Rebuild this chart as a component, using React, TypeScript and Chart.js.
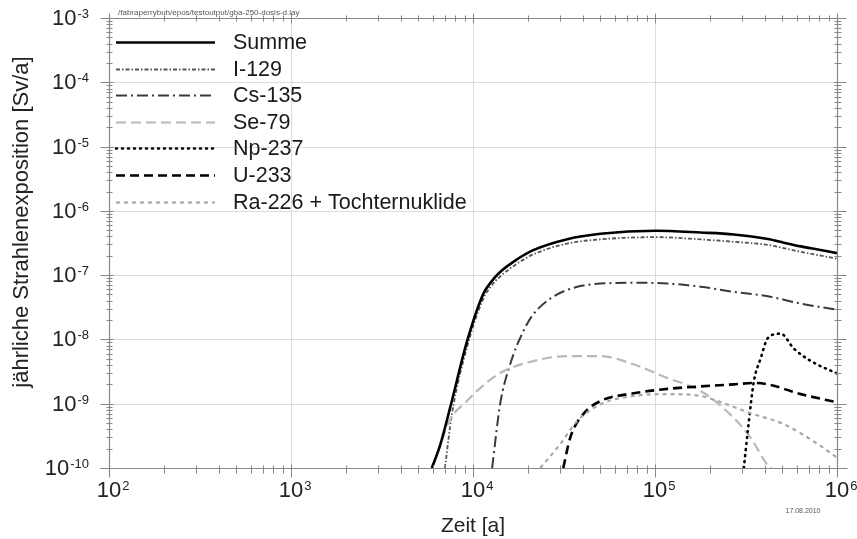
import React, { useEffect, useRef } from "react";
import { Chart, registerables } from "chart.js";

Chart.register(...registerables);

// ---------- data (time in years, annual dose in Sv/a) ----------
const summeTime = [5940, 6580, 7460, 9270, 11350, 12600, 14090, 17400, 21430, 32960, 50120, 100700, 178200, 271000, 416900, 510500, 633900, 785200, 1000000];
const summeDose = [1e-10, 2.2e-10, 8.3e-10, 9.3e-9, 5.0e-8, 7.9e-8, 1.12e-7, 1.75e-7, 2.45e-7, 3.63e-7, 4.4e-7, 4.9e-7, 4.6e-7, 4.3e-7, 3.65e-7, 3.2e-7, 2.8e-7, 2.5e-7, 2.2e-7];

const i129Time = [7010, 7660, 9270, 11350, 12600, 14090, 17400, 21430, 32960, 50120, 100000, 178200, 271000, 416900, 633900, 1000000];
const i129Dose = [1e-10, 6.9e-10, 7.6e-9, 4.2e-8, 6.8e-8, 9.5e-8, 1.5e-7, 2.1e-7, 3.1e-7, 3.6e-7, 3.9e-7, 3.6e-7, 3.3e-7, 2.95e-7, 2.3e-7, 1.8e-7];

const cs135Time = [12740, 14090, 16000, 18840, 21430, 26550, 32960, 50120, 83180, 117200, 178200, 271000, 416900, 633900, 1000000];
const cs135Dose = [1e-10, 9.8e-10, 4.1e-9, 1.32e-8, 2.45e-8, 4.3e-8, 5.9e-8, 7.4e-8, 7.6e-8, 7.4e-8, 6.6e-8, 5.5e-8, 4.7e-8, 3.6e-8, 2.9e-8];

const se79Time = [5940, 6580, 7460, 9270, 10520, 14090, 21430, 32960, 50120, 76210, 117200, 178200, 271000, 335700, 416900, 436500];
const se79Dose = [1e-10, 2.2e-10, 5.6e-10, 1.1e-9, 1.58e-9, 3.0e-9, 4.6e-9, 5.5e-9, 5.5e-9, 4.1e-9, 2.5e-9, 1.58e-9, 6.0e-10, 2.95e-10, 1.1e-10, 1e-10];

const np237Time = [307600, 323600, 349100, 381100, 416900, 490900, 579400, 719500, 1000000];
const np237Dose = [1e-10, 3.8e-10, 2.2e-9, 5.1e-9, 1.05e-8, 1.23e-8, 7.2e-9, 4.6e-9, 2.95e-9];

const u233Time = [31330, 34200, 40360, 50120, 76210, 117200, 178200, 271000, 349100, 416900, 633900, 1000000];
const u233Dose = [1e-10, 2.95e-10, 6.9e-10, 1.1e-9, 1.45e-9, 1.7e-9, 1.86e-9, 2.0e-9, 2.1e-9, 2.0e-9, 1.41e-9, 1.05e-9];

const ra226Time = [23390, 30130, 37410, 50120, 76210, 117200, 178200, 220800, 335700, 510500, 785200, 1000000];
const ra226Dose = [1e-10, 2.35e-10, 5.4e-10, 9.8e-10, 1.32e-9, 1.41e-9, 1.32e-9, 1.1e-9, 7.1e-10, 4.8e-10, 2.35e-10, 1.45e-10];

const seriesLabels = ["Summe", "I-129", "Cs-135", "Se-79", "Np-237", "U-233", "Ra-226 + Tochternuklide"];

const xDecades = [2, 3, 4, 5, 6];
const yDecades = [-3, -4, -5, -6, -7, -8, -9, -10];

const xTitle = "Zeit [a]";
const yTitle = "jährliche Strahlenexposition [Sv/a]";
const fileText = "/fabraperrybuh/epos/testoutput/gba-250-dosis-d.lay";
const dateText = "17.08.2010";

const FONT = '"Liberation Sans", Arial, Helvetica, sans-serif';

const pts = (t: number[], v: number[]) => t.map((x, i) => ({ x, y: v[i] }));

function drawPow(ctx: CanvasRenderingContext2D, exp: string, x: number, y: number, align: "center" | "right") {
  ctx.font = `22px ${FONT}`;
  const bw = ctx.measureText("10").width;
  ctx.font = `13px ${FONT}`;
  const ew = ctx.measureText(exp).width;
  const bx = align === "right" ? x - ew - 1 - bw : x - bw / 2;
  ctx.fillStyle = "#222";
  ctx.textAlign = "left";
  ctx.textBaseline = "middle";
  ctx.font = `22px ${FONT}`;
  ctx.fillText("10", bx, y);
  ctx.font = `13px ${FONT}`;
  ctx.textBaseline = "alphabetic";
  ctx.fillText(exp, bx + bw + 1, y - 1);
}

const framePlugin = {
  id: "frame",
  beforeDatasetsDraw(chart: any) {
    const { ctx, chartArea: a, scales } = chart;
    const xs = scales.x, ys = scales.y;
    ctx.save();
    ctx.strokeStyle = "#dcdcdc";
    ctx.lineWidth = 1;
    xDecades.forEach((d) => {
      const px = Math.round(xs.getPixelForValue(Math.pow(10, d))) + 0.5;
      ctx.beginPath(); ctx.moveTo(px, a.top); ctx.lineTo(px, a.bottom); ctx.stroke();
    });
    yDecades.forEach((d) => {
      const py = Math.round(ys.getPixelForValue(Math.pow(10, d))) + 0.5;
      ctx.beginPath(); ctx.moveTo(a.left, py); ctx.lineTo(a.right, py); ctx.stroke();
    });
    ctx.restore();
  },
  afterDatasetsDraw(chart: any) {
    const { ctx, chartArea: a, scales } = chart;
    const xs = scales.x, ys = scales.y;
    ctx.save();
    // frame lines
    ctx.strokeStyle = "#888";
    ctx.lineWidth = 1.2;
    const L = Math.round(a.left) + 0.5, R = Math.round(a.right) + 0.5;
    const T = Math.round(a.top) + 0.5, B = Math.round(a.bottom) + 0.5;
    ctx.beginPath();
    ctx.moveTo(L - 9, B); ctx.lineTo(R + 10, B);
    ctx.moveTo(L, B + 8); ctx.lineTo(L, T - 3);
    ctx.moveTo(L - 3, T); ctx.lineTo(R + 3, T);
    ctx.moveTo(R, T - 3); ctx.lineTo(R, B + 3);
    ctx.stroke();
    // ticks
    ctx.lineWidth = 1;
    ctx.beginPath();
    for (let d = 2; d <= 6; d++) {
      for (let m = 1; m <= 9; m++) {
        if (d === 6 && m > 1) break;
        const px = Math.round(xs.getPixelForValue(m * Math.pow(10, d))) + 0.5;
        const major = m === 1;
        ctx.moveTo(px, B - (major ? 4 : 3)); ctx.lineTo(px, B + (major ? 9 : 5));
        ctx.moveTo(px, T + (major ? 5 : 3)); ctx.lineTo(px, T - (major ? 5 : 3));
      }
    }
    for (let d = -10; d <= -3; d++) {
      for (let m = 1; m <= 9; m++) {
        if (d === -3 && m > 1) break;
        const py = Math.round(ys.getPixelForValue(m * Math.pow(10, d))) + 0.5;
        const major = m === 1;
        ctx.moveTo(L - (major ? 9 : 3), py); ctx.lineTo(L + (major ? 4 : 3), py);
        ctx.moveTo(R - (major ? 4 : 3), py); ctx.lineTo(R + (major ? 9 : 4), py);
      }
    }
    ctx.stroke();

    // tick labels
    xDecades.forEach((d) => {
      drawPow(ctx, String(d), xs.getPixelForValue(Math.pow(10, d)), a.bottom + 23, "center");
    });
    yDecades.forEach((d) => {
      drawPow(ctx, "-" + String(-d), 89, ys.getPixelForValue(Math.pow(10, d)) + 1, "right");
    });

    // axis titles
    ctx.fillStyle = "#222";
    ctx.font = `21px ${FONT}`;
    ctx.textAlign = "center";
    ctx.textBaseline = "middle";
    ctx.fillText(xTitle, (a.left + a.right) / 2, 526);
    ctx.save();
    ctx.translate(22, 222);
    ctx.rotate(-Math.PI / 2);
    ctx.font = `22px ${FONT}`;
    ctx.fillText(yTitle, 0, 0);
    ctx.restore();

    // small texts
    ctx.fillStyle = "#555";
    ctx.font = `8px ${FONT}`;
    ctx.textAlign = "left";
    ctx.textBaseline = "alphabetic";
    ctx.fillText(fileText, 118, 15);
    ctx.font = `7px ${FONT}`;
    ctx.textAlign = "center";
    ctx.fillText(dateText, 803, 513);

    // legend
    chart.data.datasets.forEach((ds: any, i: number) => {
      const y = Math.round(42 + i * 26.6) + 0.5;
      ctx.save();
      ctx.strokeStyle = ds.borderColor;
      ctx.lineWidth = ds.borderWidth;
      ctx.lineCap = ds.borderCapStyle || "butt";
      ctx.setLineDash(ds.borderDash || []);
      ctx.beginPath(); ctx.moveTo(116, y); ctx.lineTo(215, y); ctx.stroke();
      ctx.restore();
      ctx.fillStyle = "#1a1a1a";
      ctx.font = `21.5px ${FONT}`;
      ctx.textAlign = "left";
      ctx.textBaseline = "middle";
      ctx.fillText(ds.label, 233, y + 1);
    });
    ctx.restore();
  },
};

export default function App() {
  const ref = useRef<HTMLCanvasElement | null>(null);
  useEffect(() => {
    if (!ref.current) return;
    const styles = [
      { borderColor: "#000000", borderWidth: 2.6, borderDash: [] as number[], borderCapStyle: "butt" },
      { borderColor: "#555555", borderWidth: 1.8, borderDash: [4, 2, 1.5, 2], borderCapStyle: "butt" },
      { borderColor: "#3a3a3a", borderWidth: 2, borderDash: [11, 4, 2, 4], borderCapStyle: "butt" },
      { borderColor: "#b8b8b8", borderWidth: 2.2, borderDash: [10, 5], borderCapStyle: "butt" },
      { borderColor: "#000000", borderWidth: 2.6, borderDash: [1, 5], borderCapStyle: "round" },
      { borderColor: "#000000", borderWidth: 2.6, borderDash: [9, 5], borderCapStyle: "butt" },
      { borderColor: "#a8a8a8", borderWidth: 2.2, borderDash: [4, 4], borderCapStyle: "butt" },
    ];
    const data = [
      pts(summeTime, summeDose),
      pts(i129Time, i129Dose),
      pts(cs135Time, cs135Dose),
      pts(se79Time, se79Dose),
      pts(np237Time, np237Dose),
      pts(u233Time, u233Dose),
      pts(ra226Time, ra226Dose),
    ];
    const order = [3, 6, 5, 4, 2, 1, 0];
    const datasets = seriesLabels.map((label, i) => ({
      label,
      data: data[i],
      ...styles[i],
      fill: false,
      pointRadius: 0,
      cubicInterpolationMode: "monotone",
      order: order[i],
    }));
    const chart = new Chart(ref.current, {
      type: "line",
      data: { datasets } as any,
      options: {
        animation: false,
        responsive: false,
        devicePixelRatio: 1,
        layout: { padding: { left: 0, top: 18, right: 20, bottom: 0 } },
        scales: {
          x: {
            type: "logarithmic",
            min: 100,
            max: 1000000,
            grid: { display: false },
            border: { display: false },
            ticks: { display: false },
            afterFit: (s: any) => { s.height = 71; },
          },
          y: {
            type: "logarithmic",
            min: 1e-10,
            max: 1e-3,
            grid: { display: false },
            border: { display: false },
            ticks: { display: false },
            afterFit: (s: any) => { s.width = 109; },
          },
        },
        plugins: { legend: { display: false }, tooltip: { enabled: false } },
      } as any,
      plugins: [framePlugin],
    });
    return () => chart.destroy();
  }, []);
  return (
    <div style={{ position: "absolute", left: 0, top: 0, width: 857, height: 539, background: "#fff" }}>
      <canvas ref={ref} width={857} height={539} />
    </div>
  );
}
